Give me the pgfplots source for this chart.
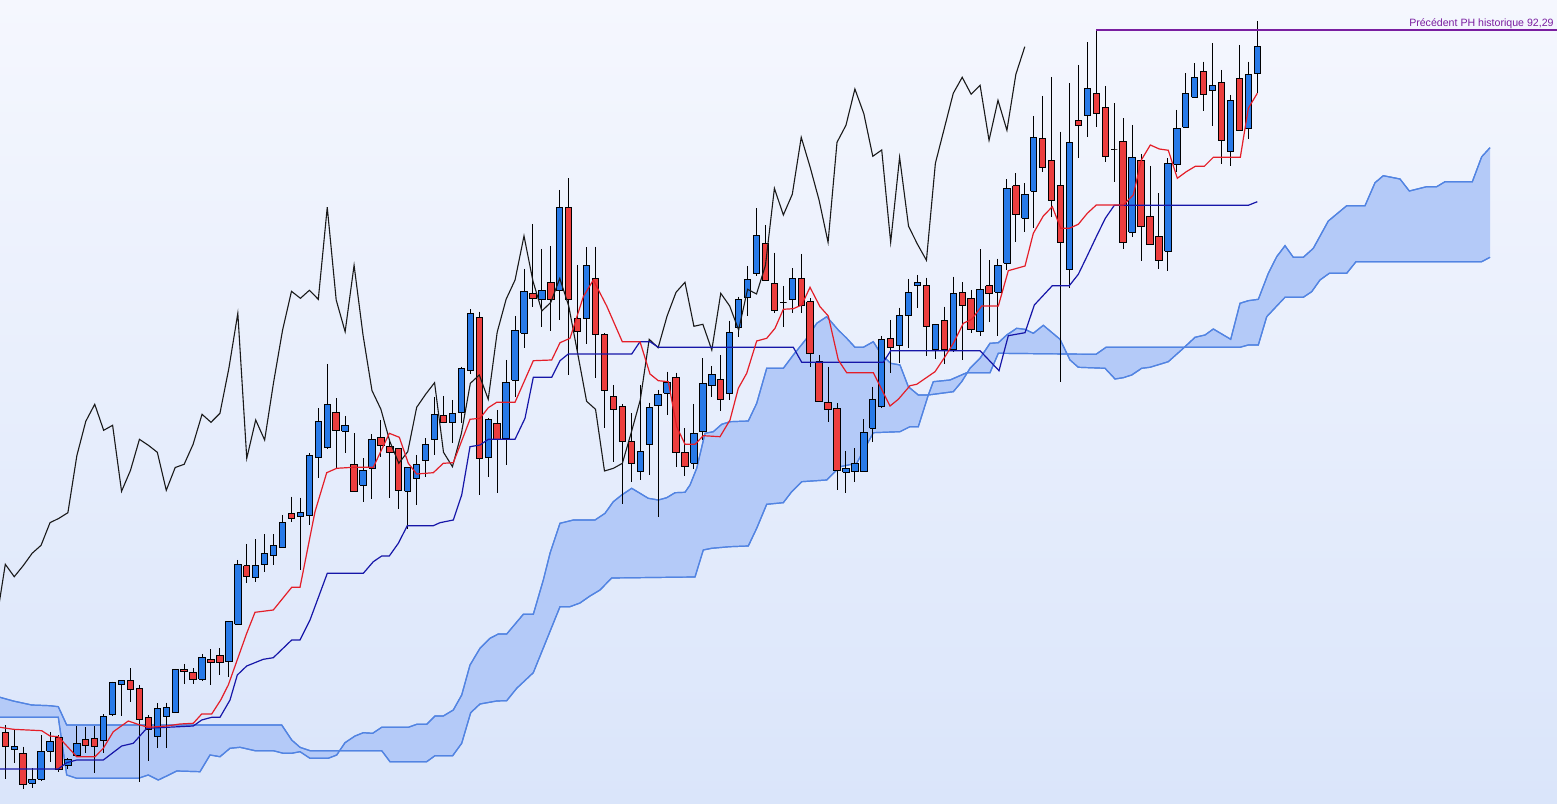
\documentclass[border=0pt]{standalone}
\usepackage{pgfplots}
\pgfplotsset{compat=1.18}
\usepackage{pgfplotstable}
\usepgfplotslibrary{fillbetween}
\usepackage{fontspec}
\setmainfont{Liberation Sans}
\definecolor{bgtop}{RGB}{245,247,254}
\definecolor{bgbot}{RGB}{218,229,250}
\definecolor{candleblue}{RGB}{40,122,232}
\definecolor{candlered}{RGB}{236,62,62}
\definecolor{tenkan}{RGB}{228,30,40}
\definecolor{kijun}{RGB}{22,22,168}
\definecolor{cloudedge}{RGB}{82,132,226}
\definecolor{cloudfill}{RGB}{180,202,248}
\definecolor{purp}{RGB}{122,30,160}
\tikzset{wick/.style={black, line width=0.5pt},
         body/.style={draw=black, line width=0.5pt}}

% candles: pixel y values (y grows downward)
\pgfplotstableread{
i o h l c
0 732.3 725 779.3 746.7
1 749.3 729.3 762.7 746
2 753.3 746.7 789.3 784.3
3 783.3 768.3 788.3 779.3
4 779.3 735 780.7 751.3
5 751.3 732.3 761.7 741
6 737.3 735 771.7 769
7 765.3 758.3 769.3 759.3
8 755.7 726 757.3 743.3
9 739.3 727.3 753.3 745.7
10 738.3 726 773.3 746.3
11 740 714 753.3 716.3
12 714 681.7 716 682.7
13 684.3 680.7 716 680.7
14 680.7 668.3 701.7 689.3
15 688.3 685 781.7 719.3
16 717.3 715 760.7 729.3
17 736.7 703.3 748.3 708.3
18 716 702.7 748.3 707.3
19 712.3 669 713 669.3
20 669.3 664 684.3 671.7
21 672.3 668.3 684.3 679.3
22 679.3 654 681 657.3
23 659.3 649.3 685.3 662.5
24 655.5 648.3 675.5 662.5
25 661.7 621 676.7 621.3
26 624.3 560 624.5 564.3
27 565.7 544 583.3 576.7
28 577.7 539.3 581.7 565.7
29 564.3 534.3 571.7 553.3
30 555.3 534.3 565 545.3
31 547.3 515 547.5 522.7
32 513.7 496.7 521.7 518.3
33 517 497.7 570 512.7
34 516 453.3 525 455.7
35 457.3 408.3 477.7 421.3
36 447.7 364 448.7 404.3
37 412.3 398.3 468.3 430.3
38 431.3 416 452.7 425.3
39 464.3 433.3 491.5 491.3
40 485.3 458.3 501.7 470.3
41 468.3 434.3 499.3 439.3
42 437.3 420 456.7 445.3
43 446.3 439.3 498.3 452.3
44 448.3 448 509.3 490.3
45 491.3 467.3 529.3 467.5
46 478.3 455 505.3 464.3
47 460.3 438.3 476.7 444.3
48 439.3 397 455 414.3
49 415.7 396 423.3 422.3
50 422.3 400 442.7 413.3
51 412.3 366.7 423.3 368.3
52 370.7 309.3 374 313.3
53 317.3 311.7 495 458.3
54 457.3 418.3 477.3 420
55 423.3 410 493.3 440
56 439 360 465 382.3
57 380.3 316 396.7 330.3
58 333.3 269 348.3 291.3
59 293.3 224 307.3 298.3
60 299.3 249 327.3 290.3
61 282.3 246 330.7 299.3
62 291 190 320 207.3
63 207.3 178.3 375 300
64 318.3 265 351.7 331.7
65 318.3 247.3 344.3 265.3
66 278.3 246.7 378.3 335
67 334.3 333.3 428.3 390.5
68 396.7 385 462 409.3
69 406.7 404 504 441.5
70 441.7 413.3 481.7 463.3
71 471.3 385 480 451.7
72 444.3 402.7 475 407.3
73 406 390 516.7 394.3
74 393.3 371.7 415 382.7
75 377.3 372.7 466.7 452.3
76 452.3 428.3 476 466.7
77 463.3 404 469.3 433.3
78 431.7 358.3 440 383.3
79 385.7 366 396.7 375
80 379.3 355 410.7 399.3
81 393.3 320.7 400 332.3
82 327.3 296.7 337.3 299.3
83 297.3 266 316 280
84 273.3 208.3 276 236
85 243.3 225 281.5 281
86 283.3 252.7 313.3 311
87 302.3 286 327.3 302.3
88 299.3 268.3 312.7 278.3
89 278.3 254 313.3 306
90 301.7 298.3 367.3 353.3
91 361.7 355 401.5 401.3
92 402.3 366.7 421.7 409.3
93 408.3 403.3 490 471
94 472.3 451 492.7 468.3
95 471.7 448.3 481.7 463.3
96 471.7 419.3 472 432.3
97 428.3 386.7 441.7 400
98 406.7 336 408.3 339.3
99 338.3 320 372.7 347.7
100 346 307.7 362.7 316
101 315.3 279 348.3 292.3
102 285.7 275 307.7 282.3
103 285.3 277.7 355.7 326.3
104 350 324 359 324.3
105 320.3 306.7 364 350
106 349.3 276.7 352.3 293.3
107 292.3 282.3 360 306
108 298.3 290 333.3 330
109 331.7 249.3 335.7 289.3
110 285.7 260 321.7 294
111 292.3 258.7 335.7 265.3
112 263.3 179.3 270 188.3
113 186 173.3 241.7 215
114 218.3 183.3 231.7 194.3
115 191.3 116 228.3 137.3
116 138.3 96 171.7 167.3
117 161 77 216.7 200.3
118 185.3 131.7 381.7 242.3
119 269.3 83.3 287.7 142.3
120 120.3 65 157.7 125.3
121 115.3 42.3 136.7 89
122 93.3 30 126.7 113.7
123 107.3 86 162.3 156.3
124 150 103.3 182.3 150
125 141.3 118.3 249.3 242.3
126 232.3 125 236.7 157.3
127 160.3 154.3 260.7 226.3
128 216.3 166 244.5 244.3
129 236.3 193.3 269.3 260.3
130 251.3 158.3 270.7 163.3
131 164.3 110 171.7 128.3
132 127.3 73.3 128.3 93.3
133 97.3 63.3 98.3 77.3
134 71.3 61.7 110.7 94.3
135 90.3 43.3 125.7 85.3
136 82.3 70 164.3 140.3
137 151.3 95 165.7 100.3
138 78.3 45 131.3 130.3
139 128.3 61.7 139.3 74.3
140 73.3 21 93.3 46.7
}\candles

\pgfplotstableread{
x y
0 717.3
58.3 717.3
66.7 775
76.7 778.3
138.3 778.3
148.3 775
158.3 780
166.7 776
176.7 771
200 771.7
210 755
220 756.7
230 748.3
240 747.3
255 750.7
273.3 750.7
283.3 753.3
291.7 753.3
300 751.7
310 758.3
328.3 758.3
336.7 755
345 742.7
355 736
363.3 732.7
372.7 733.3
381.7 727.3
408.3 727.3
416.7 724.3
426.7 724.3
435 716
443.3 716
453.3 710
461.7 695
470 665
480 648.3
490 638.3
498.3 634
506.7 634
523.3 614.3
533.3 614.3
543.3 580
550 553.3
560 523.3
573.3 520
595 520
605 513.3
613.3 501.7
621.7 495
631.7 488.3
640 493.3
648.3 498.3
658.3 500
666.7 497.7
675 492.7
685 492.3
690 485
696.7 468.3
705 433.3
713.3 431.7
721.7 424.3
730 421.7
748.3 421
756.7 403.3
766.7 368.3
783.3 368.3
793.3 355
806.7 338.3
816.7 323.3
826.7 316.7
838.3 330
846.7 338.3
855 347.3
863.3 347.3
873.3 341.7
881.7 355
890.7 363.3
900 365
908.3 386.7
918.3 395
928.3 395
953.3 391.7
961.7 381.7
970 368.3
980 358.3
990 343.3
998.3 342.7
1006.7 335
1016.7 328.3
1025 329.3
1033.3 333.3
1043.3 325.3
1060 339.3
1070 360
1078.3 367.3
1105 368.3
1115 379
1123.3 377.7
1131.7 375
1141.7 368.3
1150 367.3
1168.3 361.7
1183.3 348.3
1195 337.3
1205 335
1213.3 329
1230.7 339.3
1240 303.3
1248.3 300.7
1258.3 299.3
1268.3 273.3
1276.7 256.7
1285 245.7
1293.3 257.3
1303.3 257.3
1313.3 248.3
1328.3 221
1346.7 205.7
1365 205.7
1375 182.7
1383.3 175.7
1400 179
1409.3 191
1426.7 186.7
1436.7 186.7
1445 181.7
1472.3 181.7
1481.7 156.7
1490 147.7
}\spanA

\pgfplotstableread{
x y
0 697.3
13.3 701
31.7 705
50 705.7
58.3 706.7
66.7 725
281.7 725
291.7 740
300 747.3
310 750.7
381.7 750.7
390 761.7
426.7 761.7
435 755.7
452.7 755.7
461.7 743.3
470.7 712.7
480 704
496.7 701
506.7 700.7
516.7 688.3
533.3 672.7
560 606.7
570 606.7
580 603
590 596
600 590
611.7 578
695 577
703.3 550
711.7 548.3
730 546.7
748.3 546
756.7 528.3
766.7 504.3
783.3 502.7
791.7 491.7
801.7 481.7
826.7 480
840 466.7
856.7 463.3
873.3 432.7
900 431.7
910 426.7
918.3 426.7
928.3 395
933.3 381.7
950 380
966.7 372.7
990 372.7
998.3 353.3
1096 354.3
1106 347.3
1240 347.3
1248.3 345
1258.3 345
1266.7 316.7
1285 297.3
1303.3 297.3
1311.7 291.7
1320 280
1329.3 273.3
1346.7 273.3
1356 261.7
1481.7 261.7
1490 257.3
}\spanB

\pgfplotstableread{
x y
0 727.3
13.3 729.3
41.7 730.7
50 736
58.3 736.7
76.7 756.7
95 756.7
103.3 748.3
113.3 731.7
128.3 721
140 725
148.3 727.3
166.7 726
180 724
193.3 723.3
201.7 714
211.7 714
220.7 700
228.3 685
246.7 633.3
255 612.3
273.3 610
291.7 587.3
300 587.3
315 511.7
326.7 472.7
336.7 468.3
353.3 467.3
373.3 467.3
389.3 433.3
399.3 437.3
408.3 463.3
416.7 474
433.3 472.7
443.3 463.3
453.3 462.7
470 419.3
480 418.3
488.3 407.7
496.7 402.3
515 402.3
533.3 360.7
551.7 360
560 342.7
570 338.3
583.3 296.7
593.3 280
606.7 306
622.3 341.7
640 341.7
650 374
658.3 380.7
668.3 381.7
676.7 426.7
685 444.3
695 444.3
703.3 435.7
720 436.7
730 420
738.3 388.3
746.7 373.3
756.7 341
766.7 338.3
775 328.3
783.3 309.3
793.3 308.7
801.7 305
810 287.3
820 306.7
828.3 316
838.3 360
846.7 372.7
873.3 372.7
890 406
898.3 399.3
910 385.7
916.7 384.3
935 371.7
945 356.7
953.3 343.3
963.3 323.3
971.7 319.3
981.7 306
998.3 306
1008.3 270.7
1025 266
1033.3 233.3
1043.3 216
1052.3 206.7
1060.7 228.3
1069.3 228.3
1078.3 224.3
1087.3 213.3
1096.3 205
1123.3 205
1133.3 195
1141.3 160
1150.3 145
1159.3 149
1168.3 150.3
1177.3 178.3
1186.3 171.7
1195.3 166.3
1204.3 166.3
1213.3 157.3
1240.3 157.3
1248.3 108.3
1257.3 93.3
}\tenkan

\pgfplotstableread{
x y
0 769
58.3 769
66.7 762.7
76.7 760
103.3 760
121.7 746
133.3 743.3
146.7 728.3
193.3 726
201.7 720
211.7 717.3
220 717.3
230 700
237.3 675
246.7 666
263.3 659.3
273.3 657.7
291.7 640
300 640
310 620
327.3 573.3
363.3 573.3
373.3 561.7
381.7 556
389.3 556
398.3 543.3
407.3 525.7
433.3 525.7
440 522.7
453.3 520
461.7 495
470 446.7
480 445
488.3 439.3
515 439.3
525 418.3
533.3 377.3
551.7 377.3
560 360.7
568.3 354
631.7 354
640 341.7
650 341.7
658.3 347.3
793.3 347.3
801.7 362.3
883.3 362.3
890.7 350.7
980 350.7
999 370.7
1008.3 335.7
1025 332.7
1034.3 305
1052.3 285.7
1069.3 285.7
1078.3 274.3
1087.3 255.7
1096.3 236.7
1105.3 218.3
1114.3 205.3
1248.3 205.3
1257.3 201.7
}\kijun

\begin{document}
\begin{tikzpicture}
\begin{axis}[
  scale only axis, width=778.5pt, height=401.5pt,
  xmin=0, xmax=1557, ymin=0, ymax=803, y dir=reverse,
  axis line style={draw=none}, ticks=none,
  axis background/.style={shade, top color=bgtop, bottom color=bgbot},
  clip=true,
]
% cloud
\addplot[name path=sa, cloudedge, line width=0.6pt] table[x=x,y=y]{\spanA};
\addplot[name path=sb, cloudedge, line width=0.6pt] table[x=x,y=y]{\spanB};
\addplot[fill=cloudfill, draw=none] fill between[of=sa and sb];
\addplot[cloudedge, line width=0.6pt] table[x=x,y=y]{\spanA};
\addplot[cloudedge, line width=0.6pt] table[x=x,y=y]{\spanB};
% candles
\pgfplotstablegetrowsof{\candles}
\pgfmathtruncatemacro{\N}{\pgfplotsretval-1}
\pgfplotsforeachungrouped \k in {0,...,\N}{%
  \pgfplotstablegetelem{\k}{o}\of\candles \let\vo\pgfplotsretval
  \pgfplotstablegetelem{\k}{h}\of\candles \let\vh\pgfplotsretval
  \pgfplotstablegetelem{\k}{l}\of\candles \let\vl\pgfplotsretval
  \pgfplotstablegetelem{\k}{c}\of\candles \let\vc\pgfplotsretval
  \pgfmathsetmacro{\xm}{5.3+8.943*\k}%
  \pgfmathsetmacro{\xa}{\xm-3.2}%
  \pgfmathsetmacro{\xb}{\xm+3.2}%
  \ifdim\vc pt<\vo pt \def\cc{candleblue}\else\def\cc{candlered}\fi
  \edef\tmp{\noexpand\addplot[wick] coordinates {(\xm,\vh) (\xm,\vl)};
    \noexpand\addplot[body,fill=\cc] coordinates {(\xa,\vo) (\xb,\vo) (\xb,\vc) (\xa,\vc) (\xa,\vo)};}%
  \tmp
}
% chikou (close shifted 26 back)
\addplot[black!90, line width=0.55pt] table[x expr={5.3+8.943*(\thisrow{i}-26)}, y=c]{\candles};
% kijun, tenkan
\addplot[kijun, line width=0.6pt] table[x=x,y=y]{\kijun};
\addplot[tenkan, line width=0.6pt] table[x=x,y=y]{\tenkan};
% previous historical high
\addplot[purp, line width=1pt] coordinates {(1096.3,30) (1557,30)};
\node[anchor=base east, text=purp, font=\fontsize{5.3}{6}\selectfont, inner sep=0pt] at (axis cs:1554,26.3) {Précédent PH historique 92,29};
\end{axis}
\end{tikzpicture}
\end{document}
